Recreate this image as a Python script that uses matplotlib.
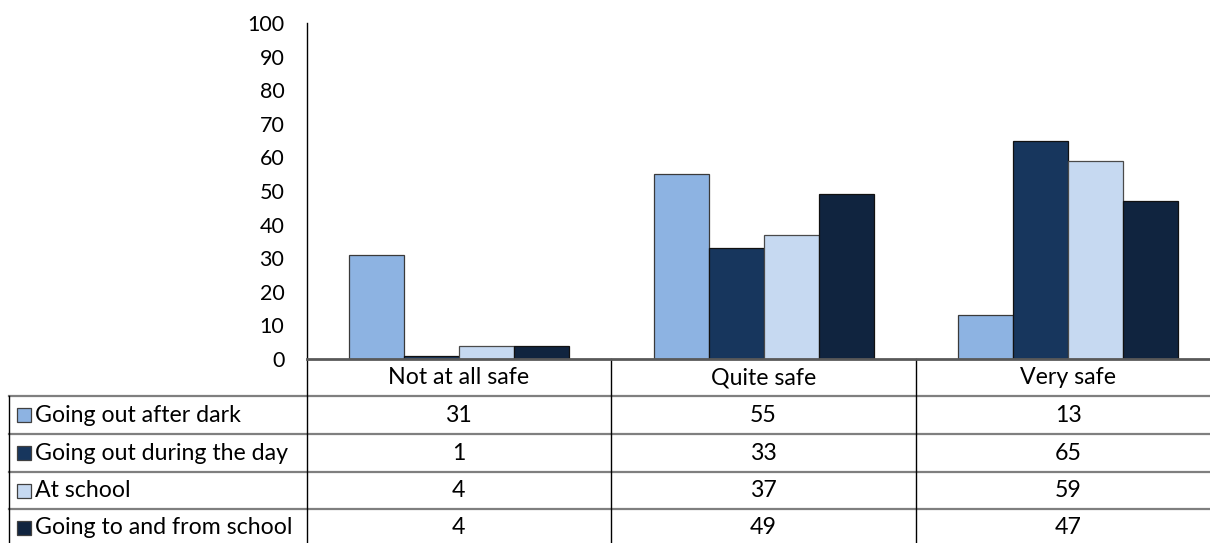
import matplotlib
matplotlib.use("Agg")
import matplotlib.pyplot as plt
from matplotlib.patches import Rectangle
from matplotlib.lines import Line2D
from matplotlib.transforms import blended_transform_factory
import numpy as np

plt.rcParams['font.family'] = ['Lato', 'DejaVu Sans']

categories = ["Not at all safe", "Quite safe", "Very safe"]
series_names = ["Going out after dark", "Going out during the day",
                "At school", "Going to and from school"]
after_dark = [31, 55, 13]
during_day = [1, 33, 65]
at_school = [4, 37, 59]
to_from_school = [4, 49, 47]
series_values = [after_dark, during_day, at_school, to_from_school]
colors = ["#8DB3E2", "#17365D", "#C6D9F1", "#10243F"]
edge_colors = ["#3a3a3a", "#111111", "#4a4a4a", "#111111"]
y_ticks = list(range(0, 101, 10))

W, H = 1210, 543
fig = plt.figure(figsize=(W / 100, H / 100), dpi=100)

# plot area in pixel terms
x0, x1 = 306.5, 1210
y_top, y_base = 23, 359
ax = fig.add_axes([x0 / W, 1 - y_base / H, (x1 - x0) / W, (y_base - y_top) / H])

col_px = 304.7
x_idx = np.arange(len(categories))
bar_w = 55 / col_px
for k, (vals, c, ec) in enumerate(zip(series_values, colors, edge_colors)):
    ax.bar(x_idx + (k - 1.5) * bar_w, vals, width=bar_w, color=c,
           edgecolor=ec, linewidth=0.9, zorder=2)

ax.set_xlim(-0.5, -0.5 + (x1 - x0) / col_px)
ax.set_ylim(0, 100)
ax.set_yticks(y_ticks)
ax.tick_params(axis='y', length=0, pad=16, labelsize=15.5, labelcolor="#000000")
ax.set_xticks([])
for s in ("top", "right"):
    ax.spines[s].set_visible(False)
ax.spines["left"].set_color("#000000")
ax.spines["left"].set_linewidth(1.0)
ax.spines["bottom"].set_color("#595959")
ax.spines["bottom"].set_linewidth(2.0)
ax.spines["bottom"].set_zorder(3)

# data table below the plot area
tab = fig.add_axes([0, 0, 1, 1], zorder=-1)
tab.set_xlim(0, W)
tab.set_ylim(H, 0)
tab.axis("off")
tr = blended_transform_factory(ax.transData, tab.transData)

row_edges = [359, 396, 434, 472, 509, 547]
left_edge = 9
fs = 16.7

# horizontal rules
for yy in row_edges[1:5]:
    tab.add_line(Line2D([left_edge, W], [yy, yy], color="#7f7f7f", lw=1.6))
# vertical rules
tab.add_line(Line2D([left_edge, left_edge], [row_edges[1], H], color="#000000", lw=1.0))
for b in [-0.5, 0.5, 1.5]:
    ax.add_line(Line2D([b, b], [row_edges[0], H], color="#000000", lw=1.0,
                       transform=tr, clip_on=False))

# header row: category names
hy = (row_edges[0] + row_edges[1]) / 2
for i, cat in enumerate(categories):
    ax.text(i, hy, cat, transform=tr, ha="center", va="center",
            fontsize=fs, clip_on=False)

# series rows: legend key, name and values
for r, (name, vals, c) in enumerate(zip(series_names, series_values, colors)):
    cy = (row_edges[r + 1] + row_edges[r + 2]) / 2
    tab.add_patch(Rectangle((17, cy - 7), 14, 14, facecolor=c,
                            edgecolor="#404040", lw=0.9))
    tab.text(35, cy, name, ha="left", va="center", fontsize=fs)
    for i, v in enumerate(vals):
        ax.text(i, cy, str(v), transform=tr, ha="center", va="center",
                fontsize=fs, clip_on=False)

fig.savefig("out.png", dpi=100)
